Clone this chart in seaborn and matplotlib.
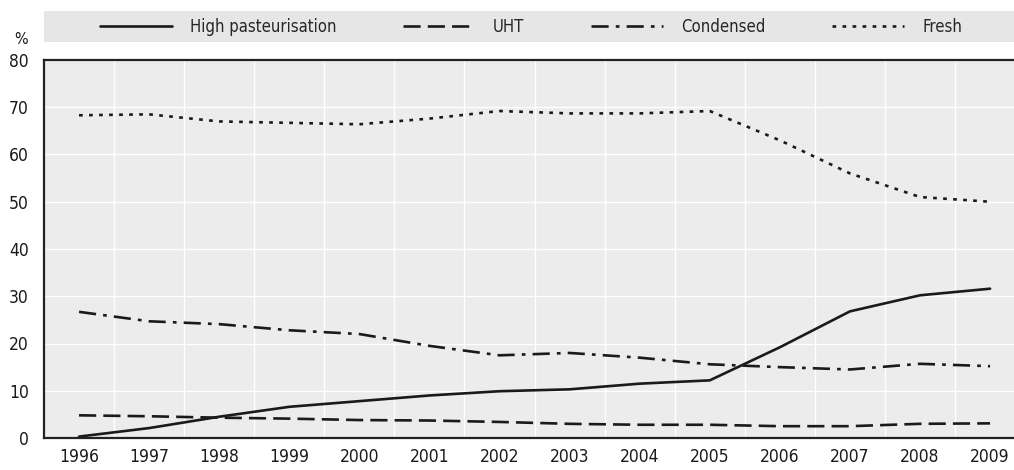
import numpy as np
import pandas as pd
import matplotlib
matplotlib.use("Agg")
import matplotlib.pyplot as plt
from matplotlib.patches import Rectangle
from matplotlib.ticker import FixedLocator
import seaborn as sns

# --- data ---
years = list(range(1996, 2010))
high_past = [0.3, 2.1, 4.5, 6.6, 7.8, 9.0, 9.9, 10.3, 11.5, 12.2, 19.2, 26.8, 30.2, 31.6]
uht = [4.8, 4.6, 4.3, 4.1, 3.8, 3.7, 3.4, 3.0, 2.8, 2.8, 2.5, 2.5, 3.0, 3.1]
condensed = [26.7, 24.7, 24.1, 22.8, 22.0, 19.5, 17.5, 18.0, 17.0, 15.6, 15.0, 14.5, 15.7, 15.2]
fresh = [68.3, 68.5, 67.0, 66.7, 66.4, 67.6, 69.2, 68.7, 68.7, 69.2, 63.0, 56.0, 51.0, 50.0]
series_names = ["High pasteurisation", "UHT", "Condensed", "Fresh"]

df = pd.DataFrame({
    "year": years * 4,
    "value": high_past + uht + condensed + fresh,
    "series": sum([[n] * len(years) for n in series_names], []),
})

sns.set_style("white", {"axes.facecolor": "#ececec"})
plt.rcParams["font.family"] = ["Liberation Sans Narrow", "DejaVu Sans"]
plt.rcParams["font.stretch"] = "condensed"

fig = plt.figure(figsize=(10.14, 4.70), dpi=100)
ax = fig.add_axes([44 / 1014, 1 - 438 / 470, 970 / 1014, 378 / 470])

# line styles per series
dash_map = {
    "High pasteurisation": "",
    "UHT": (6.5, 2.7),
    "Condensed": (6.5, 2.7, 1.4, 2.7),
    "Fresh": (1.4, 2.4),
}
sns.lineplot(data=df, x="year", y="value", style="series", dashes=dash_map,
             color="#1a1a1a", linewidth=1.9, ax=ax, legend=True)

ax.set_xlim(1995.5, 1995.5 + 970 / 70.08)
ax.set_ylim(0, 80)
ax.set_yticks(range(0, 81, 10))
ax.set_xticks(years)
ax.set_xticklabels([str(y) for y in years])
ax.xaxis.set_minor_locator(FixedLocator([y + 0.5 for y in years]))
ax.tick_params(axis="x", which="major", length=0, labelsize=12.5, pad=7, colors="#1a1a1a")
ax.tick_params(axis="x", which="minor", direction="in", length=5, width=1, color="#333333")
ax.tick_params(axis="y", which="major", direction="in", length=5, width=1, labelsize=12.5,
               color="#333333", labelcolor="#1a1a1a", pad=11)
ax.grid(True, axis="y", which="major", color="white", linewidth=1)
ax.grid(True, axis="x", which="minor", color="white", linewidth=1)
ax.set_axisbelow(True)
ax.set_xlabel("")
ax.set_ylabel("")

for side in ["left", "bottom", "top"]:
    ax.spines[side].set_visible(True)
    ax.spines[side].set_color("#222222")
    ax.spines[side].set_linewidth(1.6)
ax.spines["right"].set_visible(False)

# legend band at the top
band = Rectangle((44 / 1014, 1 - 42 / 470), 970 / 1014, 31 / 470,
                 transform=fig.transFigure, facecolor="#e6e6e6", edgecolor="none", zorder=0)
fig.patches.append(band)

handles, labels = ax.get_legend_handles_labels()
ax.get_legend().remove()
fig.legend(handles, labels, ncol=4, loc="center",
           bbox_to_anchor=(531 / 1014, 1 - 27 / 470),
           frameon=False, fontsize=12,
           handlelength=4.3, handletextpad=1.1, columnspacing=4.0,
           borderaxespad=0, borderpad=0)

fig.text(14 / 1014, 1 - 39 / 470, "%", fontsize=11.5, color="#1a1a1a", va="center")

fig.savefig("out.png", dpi=100)
